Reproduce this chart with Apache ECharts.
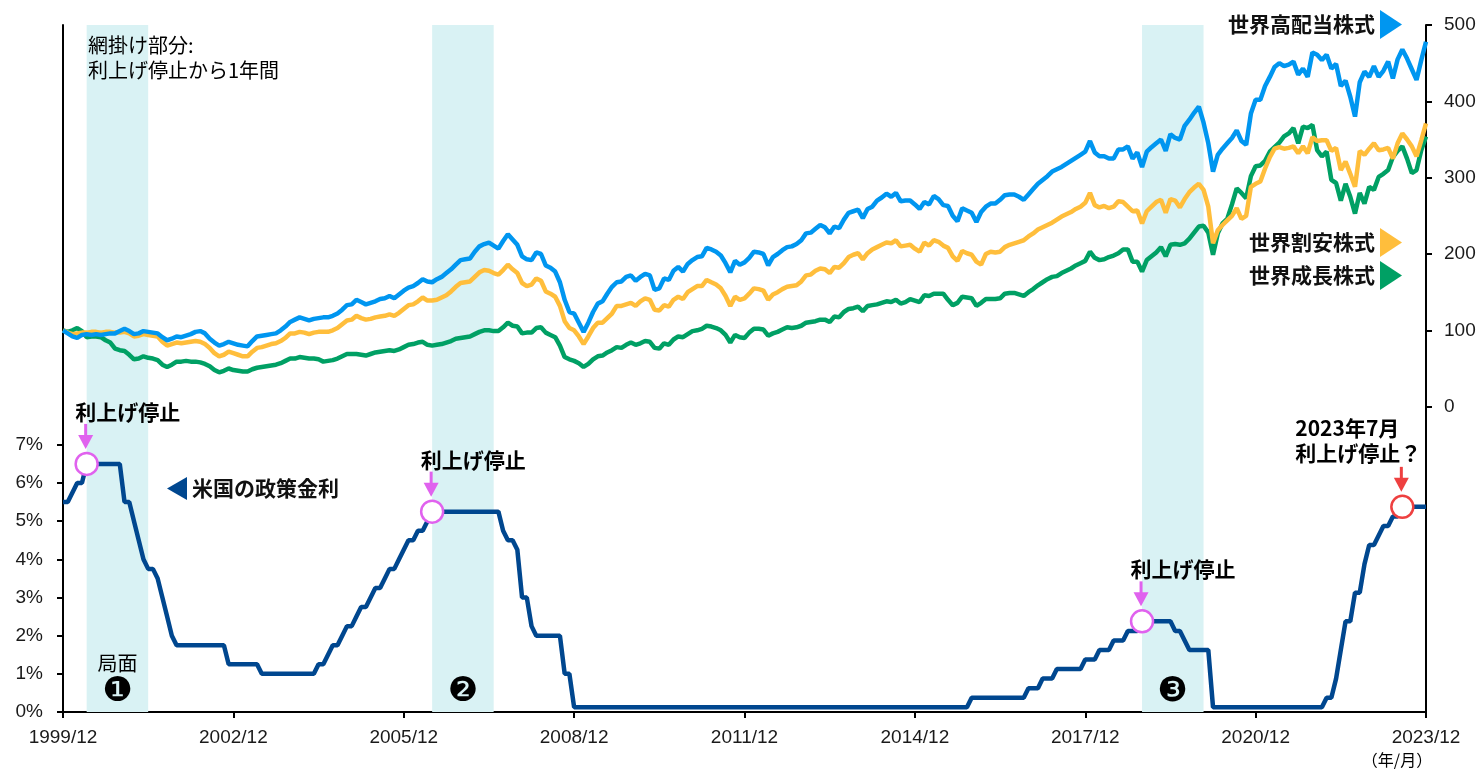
<!DOCTYPE html>
<html>
<head>
<meta charset="utf-8">
<title>利上げ停止と世界株式</title>
<script src="https://cdn.jsdelivr.net/npm/echarts@6/dist/echarts.min.js"></script>
<style>
  html, body { margin: 0; padding: 0; background: #fff; }
  #chart { width: 1483px; height: 769px; }
</style>
</head>
<body>
<div id="chart"></div>
<script>
// 月次データ 1999/12～2023/12（株式は1999/12=100で指数化）
const months = [];
for (let y = 1999, mo = 12; months.length < 289; mo++) {
  if (mo > 12) { mo = 1; y++; }
  months.push(y + "/" + String(mo).padStart(2, "0"));
}

// 世界高配当株式
const highDividend = [
  100,
  96, 92, 90, 94, 95, 94, 95, 94, 95, 96, 96, 99,
  102, 99, 95, 96, 99, 98, 97, 96, 91, 87, 89, 92,
  91, 93, 95, 98, 99, 96, 89, 84, 80, 82, 85, 83,
  81, 80, 79, 86, 92, 93, 94, 95, 96, 100, 105, 111,
  114, 117, 115, 113, 115, 116, 117, 117, 119, 122, 127, 133,
  134, 140, 137, 134, 136, 138, 141, 142, 145, 142, 147, 152,
  156, 158, 162, 167, 164, 163, 167, 170, 175, 180, 186, 192,
  193, 194, 203, 210, 213, 215, 211, 207, 217, 226, 219, 212,
  197, 193, 192, 202, 200, 185, 182, 177, 163, 140, 124, 122,
  110, 98, 110, 124, 135, 138, 148, 157, 163, 164, 170, 172,
  165, 170, 174, 172, 153, 155, 168, 166, 178, 183, 177, 187,
  192, 196, 197, 208, 206, 203, 198, 188, 176, 191, 186, 189,
  195, 203, 202, 200, 185, 196, 200, 205, 209, 210, 213, 218,
  227, 228, 233, 238, 235, 227, 236, 234, 245, 254, 256, 258,
  247, 259, 262, 270, 274, 279, 275, 280, 269, 270, 270, 265,
  259, 268, 265, 276, 272, 264, 263, 250, 243, 260, 257, 254,
  242, 255, 262, 266, 266, 271, 277, 278, 278, 275, 271, 278,
  285, 292, 297, 302, 308, 311, 314, 318, 322, 326, 330, 334,
  348, 333, 328, 328, 325, 325, 337, 337, 341, 325, 333, 314,
  334, 340, 345, 350, 335, 357, 352, 350, 368, 376, 385, 393,
  372, 345, 308, 330, 338, 345, 352, 362, 348, 343, 384, 402,
  402, 420, 432, 445, 450, 446, 448, 452, 435, 443, 432, 464,
  461, 454, 461, 443, 449, 420, 427, 406, 380, 425, 439, 432,
  446, 432, 440, 452, 430, 455, 468, 456, 442, 428, 454, 478
];

// 世界割安株式
const valueStocks = [
  100,
  97, 95, 96, 97, 97, 98, 98, 97, 98, 98, 97, 97,
  98, 96, 92, 93, 95, 94, 93, 92, 85, 80, 82, 84,
  83, 84, 85, 86, 85, 82, 77, 70, 66, 68, 72, 70,
  68, 66, 66, 72, 77, 78, 80, 82, 83, 86, 90, 96,
  96, 98, 97, 95, 97, 98, 98, 98, 100, 103, 108, 113,
  114, 119, 116, 114, 115, 117, 118, 119, 121, 119, 123, 128,
  133, 134, 138, 143, 139, 139, 140, 143, 146, 151, 157, 162,
  163, 164, 170, 176, 179, 178, 175, 173, 179, 186, 180, 175,
  162, 158, 160, 168, 165, 151, 148, 144, 132, 112, 103, 100,
  92, 82, 92, 103, 110, 110, 116, 122, 132, 132, 134, 136,
  132, 138, 142, 140, 127, 126, 133, 131, 140, 144, 141, 150,
  154, 158, 158, 166, 163, 160, 155, 145, 132, 144, 140, 142,
  148, 155, 154, 152, 140, 147, 150, 154, 157, 158, 159, 164,
  172, 173, 178, 181, 180, 175, 183, 182, 188, 196, 199, 201,
  193, 201, 206, 209, 212, 215, 214, 218, 210, 211, 212, 207,
  203, 215, 211, 218, 216, 211, 208, 197, 191, 204, 201, 199,
  190, 186, 200, 203, 202, 203, 209, 212, 214, 216, 218, 223,
  227, 232, 235, 238, 241, 245, 249, 252, 255, 259, 262, 267,
  280, 264, 261, 263, 260, 262, 269, 268, 262, 256, 257, 240,
  256, 262, 268, 271, 254, 272, 270, 261, 272, 281, 287, 292,
  284, 262, 214, 231, 238, 244, 250, 260, 246, 250, 288, 292,
  295, 312, 327, 338, 340, 338, 339, 341, 332, 341, 332, 353,
  348, 349, 349, 335, 339, 310, 321, 305, 288, 335, 330, 338,
  345, 336, 337, 339, 325, 345, 358, 350, 341, 328, 349, 371
];

// 世界成長株式
const growthStocks = [
  100,
  98, 100, 103, 99, 91, 92, 92, 91, 87, 84, 76, 74,
  73, 68, 62, 63, 66, 64, 63, 61, 55, 52, 55, 59,
  59, 60, 59, 59, 58, 56, 53, 48, 45, 47, 50, 48,
  47, 46, 46, 49, 51, 52, 53, 54, 55, 57, 60, 63,
  63, 65, 64, 63, 63, 62, 59, 60, 61, 63, 66, 69,
  69, 69, 68, 67, 69, 71, 72, 73, 74, 73, 75, 78,
  81, 82, 84, 85, 81, 80, 81, 82, 84, 86, 89, 90,
  91, 92, 95, 98, 100, 100, 99, 99, 104, 110, 106, 105,
  96, 97, 97, 103, 104, 97, 94, 91, 80, 65, 62, 60,
  57, 52, 56, 62, 66, 67, 71, 74, 78, 77, 81, 84,
  81, 83, 86, 85, 77, 76, 83, 81, 88, 92, 91, 95,
  99, 100, 102, 106, 105, 103, 100, 94, 84, 94, 91, 90,
  97, 102, 102, 101, 93, 96, 98, 101, 104, 103, 104, 106,
  110, 111, 112, 114, 114, 111, 118, 117, 124, 128, 129, 131,
  125, 132, 133, 134, 136, 138, 137, 140, 135, 137, 141, 139,
  137, 146, 145, 148, 148, 148, 140, 133, 136, 144, 143, 142,
  132, 136, 141, 141, 141, 142, 148, 149, 149, 147, 145, 150,
  154, 159, 163, 167, 170, 171, 175, 178, 181, 185, 188, 191,
  203, 195, 192, 193, 196, 198, 201, 206, 206, 190, 190, 177,
  192, 197, 202, 209, 197, 212, 213, 212, 214, 220, 228, 236,
  237, 228, 199, 227, 240, 246, 265, 286, 280, 273, 302, 315,
  316, 322, 334, 340, 346, 354, 358, 365, 345, 367, 365, 369,
  336, 328, 334, 297, 293, 270, 292, 275, 253, 280, 266, 288,
  284, 301, 305, 310, 327, 335, 341, 325, 306, 310, 336, 354
];

// 米国の政策金利（%、レンジの場合は中央値）
const fedRate = [
  5.5,
  5.5, 5.75, 6, 6, 6.5, 6.5, 6.5, 6.5, 6.5, 6.5, 6.5, 6.5,
  5.5, 5.5, 5, 4.5, 4, 3.75, 3.75, 3.5, 3, 2.5, 2, 1.75,
  1.75, 1.75, 1.75, 1.75, 1.75, 1.75, 1.75, 1.75, 1.75, 1.75, 1.25, 1.25,
  1.25, 1.25, 1.25, 1.25, 1.25, 1, 1, 1, 1, 1, 1, 1,
  1, 1, 1, 1, 1, 1.25, 1.25, 1.5, 1.75, 1.75, 2, 2.25,
  2.25, 2.5, 2.75, 2.75, 3, 3.25, 3.25, 3.5, 3.75, 3.75, 4, 4.25,
  4.5, 4.5, 4.75, 4.75, 5, 5.25, 5.25, 5.25, 5.25, 5.25, 5.25, 5.25,
  5.25, 5.25, 5.25, 5.25, 5.25, 5.25, 5.25, 5.25, 4.75, 4.5, 4.5, 4.25,
  3, 3, 2.25, 2, 2, 2, 2, 2, 2, 1, 1, 0.125,
  0.125, 0.125, 0.125, 0.125, 0.125, 0.125, 0.125, 0.125, 0.125, 0.125, 0.125, 0.125,
  0.125, 0.125, 0.125, 0.125, 0.125, 0.125, 0.125, 0.125, 0.125, 0.125, 0.125, 0.125,
  0.125, 0.125, 0.125, 0.125, 0.125, 0.125, 0.125, 0.125, 0.125, 0.125, 0.125, 0.125,
  0.125, 0.125, 0.125, 0.125, 0.125, 0.125, 0.125, 0.125, 0.125, 0.125, 0.125, 0.125,
  0.125, 0.125, 0.125, 0.125, 0.125, 0.125, 0.125, 0.125, 0.125, 0.125, 0.125, 0.125,
  0.125, 0.125, 0.125, 0.125, 0.125, 0.125, 0.125, 0.125, 0.125, 0.125, 0.125, 0.125,
  0.125, 0.125, 0.125, 0.125, 0.125, 0.125, 0.125, 0.125, 0.125, 0.125, 0.125, 0.375,
  0.375, 0.375, 0.375, 0.375, 0.375, 0.375, 0.375, 0.375, 0.375, 0.375, 0.375, 0.625,
  0.625, 0.625, 0.875, 0.875, 0.875, 1.125, 1.125, 1.125, 1.125, 1.125, 1.125, 1.375,
  1.375, 1.375, 1.625, 1.625, 1.625, 1.875, 1.875, 1.875, 2.125, 2.125, 2.125, 2.375,
  2.375, 2.375, 2.375, 2.375, 2.375, 2.375, 2.125, 2.125, 1.875, 1.625, 1.625, 1.625,
  1.625, 1.625, 0.125, 0.125, 0.125, 0.125, 0.125, 0.125, 0.125, 0.125, 0.125, 0.125,
  0.125, 0.125, 0.125, 0.125, 0.125, 0.125, 0.125, 0.125, 0.125, 0.125, 0.125, 0.125,
  0.125, 0.125, 0.375, 0.375, 0.875, 1.625, 2.375, 2.375, 3.125, 3.125, 3.875, 4.375,
  4.375, 4.625, 4.875, 4.875, 5.125, 5.125, 5.375, 5.375, 5.375, 5.375, 5.375, 5.375
];

// 利上げ停止時点と網掛け（停止から1年間）
const stopMonths = ["2000/05", "2006/06", "2018/12", "2023/07"];
const shadeStart = ["2000/05", "2006/06", "2018/12"];
const shadeEnd = ["2001/06", "2007/07", "2020/01"];
const phaseMarks = ["❶", "❷", "❸"];

// 目盛り
const rateTicks = [0, 1, 2, 3, 4, 5, 6, 7];
const indexTicks = [0, 100, 200, 300, 400, 500];

const COLOR_HIGH = "#0096f0";
const COLOR_VALUE = "#ffbe3c";
const COLOR_GROWTH = "#00a064";
const COLOR_RATE = "#00478f";
const SHADE = "#d9f2f4";
const PINK = "#e062ee";
const RED = "#ee4040";
const TEXT = "#1a1a1a";
const LATIN = "'Liberation Sans', Arial, sans-serif";
const CJK = "'Noto Sans CJK JP', sans-serif";

const TRI_RIGHT = "path://M0,0L22,14.5L0,29Z";
const TRI_LEFT = "path://M20,0L0,11.5L20,23Z";

const chart = echarts.init(document.getElementById("chart"));

const axisLineStyle = { color: "#000", width: 2 };
const legendText = { fontSize: 21, fontWeight: "bold", color: "#111", fontFamily: CJK };

const option = {
  animation: false,
  grid: { left: 63, right: 57, top: 25, bottom: 57 },
  legend: [
    {
      data: ["世界高配当株式"], right: 81, top: 10, padding: 0,
      align: "right", icon: TRI_RIGHT, itemWidth: 22, itemHeight: 29,
      textStyle: legendText, selectedMode: false
    },
    {
      data: ["世界割安株式", "世界成長株式"], orient: "vertical", right: 81, top: 228,
      padding: 0, itemGap: 4, align: "right", icon: TRI_RIGHT, itemWidth: 22, itemHeight: 29,
      textStyle: legendText, selectedMode: false
    },
    {
      data: ["米国の政策金利"], left: 167, top: 477, padding: 0,
      align: "left", icon: TRI_LEFT, itemWidth: 20, itemHeight: 23,
      textStyle: legendText, selectedMode: false
    }
  ],
  xAxis: {
    type: "category",
    data: months,
    boundaryGap: false,
    axisLine: { lineStyle: axisLineStyle },
    axisTick: { interval: 35, length: 6, lineStyle: axisLineStyle },
    axisLabel: { interval: 35, margin: 16, color: TEXT, fontSize: 19, fontFamily: LATIN },
    splitLine: { show: false }
  },
  yAxis: [
    {
      type: "value", position: "left", min: 0, max: 18, interval: 1,
      axisLine: { show: true, lineStyle: axisLineStyle },
      axisTick: { show: true, length: 6, customValues: rateTicks, lineStyle: axisLineStyle },
      axisLabel: {
        customValues: rateTicks, formatter: "{value}%", margin: 20,
        color: TEXT, fontSize: 19, fontFamily: LATIN
      },
      splitLine: { show: false }
    },
    {
      type: "value", position: "right", min: -400, max: 500, interval: 100,
      axisLine: { show: true, lineStyle: axisLineStyle },
      axisTick: { show: true, length: 6, customValues: indexTicks, lineStyle: axisLineStyle },
      axisLabel: {
        customValues: indexTicks, margin: 18,
        color: TEXT, fontSize: 19, fontFamily: LATIN
      },
      splitLine: { show: false }
    }
  ],
  series: [
    {
      // 網掛け部分
      name: "shade", type: "line", data: [], z: 0, silent: true,
      markArea: {
        silent: true,
        itemStyle: { color: SHADE },
        data: shadeStart.map((s, i) => [{ xAxis: s }, { xAxis: shadeEnd[i] }])
      }
    },
    {
      name: "世界成長株式", type: "line", yAxisIndex: 1, data: growthStocks,
      showSymbol: false, color: COLOR_GROWTH,
      lineStyle: { width: 4.5, color: COLOR_GROWTH }
    },
    {
      name: "世界割安株式", type: "line", yAxisIndex: 1, data: valueStocks,
      showSymbol: false, color: COLOR_VALUE,
      lineStyle: { width: 4.5, color: COLOR_VALUE }
    },
    {
      name: "世界高配当株式", type: "line", yAxisIndex: 1, data: highDividend,
      showSymbol: false, color: COLOR_HIGH,
      lineStyle: { width: 4.5, color: COLOR_HIGH }
    },
    {
      name: "米国の政策金利", type: "line", yAxisIndex: 0, data: fedRate,
      showSymbol: false, color: COLOR_RATE,
      lineStyle: { width: 4.5, color: COLOR_RATE }
    },
    {
      name: "利上げ停止", type: "scatter", yAxisIndex: 0, z: 5, symbolSize: 22,
      data: stopMonths.map((m, i) => ({
        value: [m, fedRate[months.indexOf(m)]],
        itemStyle: { color: "#fff", opacity: 1, borderColor: i === 3 ? RED : PINK, borderWidth: 2.5 }
      }))
    }
  ]
};

chart.setOption(option);

// 注記（矢印・テキスト）をデータ位置から配置
function annotate() {
  const els = [];
  const txt = (x, y, text, font, align) => ({
    type: "text", x: x, y: y, z: 10,
    style: { text: text, font: font, fill: "#000", align: align || "center", verticalAlign: "middle" }
  });

  stopMonths.forEach((m, i) => {
    const p = chart.convertToPixel({ xAxisIndex: 0, yAxisIndex: 0 }, [m, fedRate[months.indexOf(m)]]);
    const col = i === 3 ? RED : PINK;
    const ax = p[0] - 1;
    els.push({ type: "line", z: 10, shape: { x1: ax, y1: p[1] - 40, x2: ax, y2: p[1] - 27 }, style: { stroke: col, lineWidth: 3 } });
    els.push({ type: "polygon", z: 10, shape: { points: [[ax - 7.5, p[1] - 29], [ax + 7.5, p[1] - 29], [ax, p[1] - 15]] }, style: { fill: col } });
    if (i < 3) {
      els.push(txt(p[0] + 41, p[1] - 52, "利上げ停止", "bold 21px " + CJK));
    } else {
      els.push(txt(p[0] - 107, p[1] - 79, "2023年7月", "bold 21px " + CJK, "left"));
      els.push(txt(p[0] - 107, p[1] - 54, "利上げ停止？", "bold 21px " + CJK, "left"));
    }
  });

  shadeStart.forEach((s, i) => {
    const x0 = chart.convertToPixel({ xAxisIndex: 0 }, s);
    const x1 = chart.convertToPixel({ xAxisIndex: 0 }, shadeEnd[i]);
    const cx = (x0 + x1) / 2;
    if (i === 0) els.push(txt(cx, 663, "局面", "20px " + CJK));
    els.push(txt(cx, 692, phaseMarks[i], "34px 'DejaVu Sans', " + CJK));
  });

  els.push(txt(88, 45, "網掛け部分:", "20px " + CJK, "left"));
  els.push(txt(88, 70, "利上げ停止から1年間", "20px " + CJK, "left"));
  els.push(txt(1397, 760, "（年/月）", "16px " + CJK));

  chart.setOption({ graphic: { elements: els } });
}
annotate();
</script>
</body>
</html>
